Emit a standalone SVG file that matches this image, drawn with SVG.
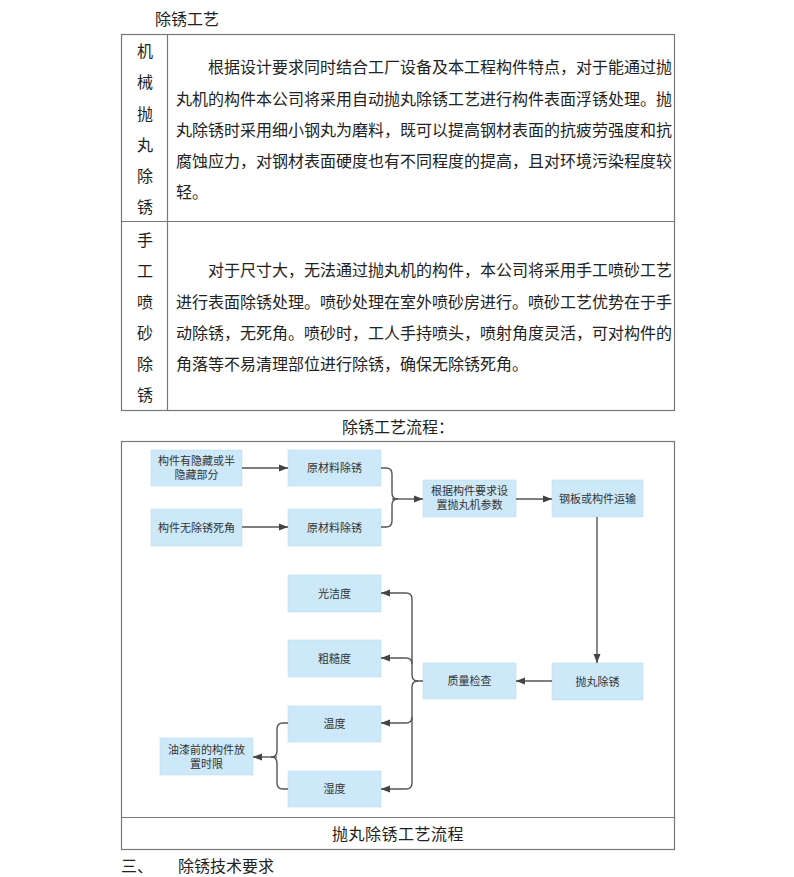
<svg xmlns="http://www.w3.org/2000/svg" width="794" height="877" viewBox="0 0 794 877">
<style>
.t{font-family:"Liberation Serif","Noto Sans CJK SC",serif;font-size:16px;fill:#222;dominant-baseline:central}
.c{text-anchor:middle}
.n rect{fill:#cde8f9;stroke:#bcdcef;stroke-width:0.6}
.n text{font-family:"Liberation Serif","Noto Sans CJK SC",sans-serif;font-size:11px;fill:#333;text-anchor:middle;dominant-baseline:central}
.ln{fill:none;stroke:#777;stroke-width:1.2}
.cn path{fill:none;stroke:#555;stroke-width:1.4}
</style>
<defs>
<marker id="ah" markerUnits="userSpaceOnUse" markerWidth="10" markerHeight="8" refX="9" refY="4" orient="auto">
<path d="M0,0.5 L9,4 L0,7.5 z" fill="#444"/>
</marker>
</defs>
<rect width="794" height="877" fill="#fff"/>
<text class="t" x="155" y="19">除锈工艺</text>
<g id="table">
<rect class="ln" x="121.5" y="34.5" width="553" height="376"/>
<line class="ln" x1="167.5" y1="34.5" x2="167.5" y2="410.5"/>
<line class="ln" x1="121.5" y1="221.5" x2="674.5" y2="221.5"/>
<g class="t c">
<text x="145" y="51">机</text><text x="145" y="82">械</text><text x="145" y="114">抛</text><text x="145" y="145">丸</text><text x="145" y="176">除</text><text x="145" y="207">锈</text>
<text x="145" y="240">手</text><text x="145" y="271">工</text><text x="145" y="302">喷</text><text x="145" y="333">砂</text><text x="145" y="364">除</text><text x="145" y="395">锈</text>
</g>
<g class="t">
<text x="208" y="67">根据设计要求同时结合工厂设备及本工程构件特点，对于能通过抛</text>
<text x="176" y="99">丸机的构件本公司将采用自动抛丸除锈工艺进行构件表面浮锈处理。抛</text>
<text x="176" y="130">丸除锈时采用细小钢丸为磨料，既可以提高钢材表面的抗疲劳强度和抗</text>
<text x="176" y="161">腐蚀应力，对钢材表面硬度也有不同程度的提高，且对环境污染程度较</text>
<text x="176" y="192">轻。</text>
<text x="208" y="270">对于尺寸大，无法通过抛丸机的构件，本公司将采用手工喷砂工艺</text>
<text x="176" y="302">进行表面除锈处理。喷砂处理在室外喷砂房进行。喷砂工艺优势在于手</text>
<text x="176" y="333">动除锈，无死角。喷砂时，工人手持喷头，喷射角度灵活，可对构件的</text>
<text x="176" y="364">角落等不易清理部位进行除锈，确保无除锈死角。</text>
</g>
</g>
<text class="t c" x="398" y="427">除锈工艺流程：</text>
<g id="frame">
<rect class="ln" x="121.5" y="441.5" width="553" height="408" stroke="#666"/>
<line class="ln" x1="121.5" y1="817.5" x2="674.5" y2="817.5"/>
<text class="t c" x="398" y="834" letter-spacing="0.5">抛丸除锈工艺流程</text>
</g>
<g id="n1" class="n"><rect x="151" y="450" width="91" height="36"/><text x="196.5" y="461">构件有隐藏或半</text><text x="196.5" y="475">隐藏部分</text></g>
<g id="n2" class="n"><rect x="288" y="450" width="93" height="36"/><text x="334.5" y="468">原材料除锈</text></g>
<g id="n3" class="n"><rect x="151" y="509" width="91" height="37"/><text x="196.5" y="527.5">构件无除锈死角</text></g>
<g id="n4" class="n"><rect x="288" y="509" width="93" height="37"/><text x="334.5" y="527.5">原材料除锈</text></g>
<g id="n5" class="n"><rect x="423" y="480" width="93" height="37"/><text x="469.5" y="491">根据构件要求设</text><text x="469.5" y="505">置抛丸机参数</text></g>
<g id="n6" class="n"><rect x="552" y="480" width="91" height="37"/><text x="597.5" y="498.5">钢板或构件运输</text></g>
<g id="n7" class="n"><rect x="552" y="663" width="91" height="37"/><text x="597.5" y="681.5">抛丸除锈</text></g>
<g id="n8" class="n"><rect x="423" y="663" width="93" height="36"/><text x="469.5" y="681">质量检查</text></g>
<g id="n9" class="n"><rect x="288" y="575" width="93" height="37"/><text x="334.5" y="593.5">光洁度</text></g>
<g id="n10" class="n"><rect x="288" y="640" width="93" height="37"/><text x="334.5" y="658.5">粗糙度</text></g>
<g id="n11" class="n"><rect x="288" y="706" width="93" height="36"/><text x="334.5" y="724">温度</text></g>
<g id="n12" class="n"><rect x="288" y="771" width="93" height="36"/><text x="334.5" y="789">湿度</text></g>
<g id="n13" class="n"><rect x="160" y="738" width="93" height="37"/><text x="206.5" y="750">油漆前的构件放</text><text x="206.5" y="764">置时限</text></g>
<g id="connectors" class="cn">
<path d="M242,468 H288" marker-end="url(#ah)"/>
<path d="M242,527 H288" marker-end="url(#ah)"/>
<path d="M381,468 H386 Q392,468 392,474 V493 Q392,499 398,499"/>
<path d="M381,527 H386 Q392,527 392,521 V505 Q392,499 398,499"/>
<path d="M392,499 H423" marker-end="url(#ah)"/>
<path d="M516,499 H552" marker-end="url(#ah)"/>
<path d="M597,517 V663" marker-end="url(#ah)"/>
<path d="M552,681 H516" marker-end="url(#ah)"/>
<path d="M423,681 H418 Q412,681 412,675 V599 Q412,593 406,593 H381" marker-end="url(#ah)"/>
<path d="M412,664 Q412,658 406,658 H381" marker-end="url(#ah)"/>
<path d="M418,681 Q412,681 412,687 V783 Q412,789 406,789 H381" marker-end="url(#ah)"/>
<path d="M412,717 Q412,723 406,723 H381" marker-end="url(#ah)"/>
<path d="M288,723 H283 Q277,723 277,729 V751 Q277,757 271,757"/>
<path d="M288,789 H283 Q277,789 277,783 V763 Q277,757 271,757"/>
<path d="M277,757 H253" marker-end="url(#ah)" stroke-width="2"/>
</g>
<text class="t" x="121" y="866">三、</text>
<text class="t" x="178" y="866">除锈技术要求</text>
</svg>
